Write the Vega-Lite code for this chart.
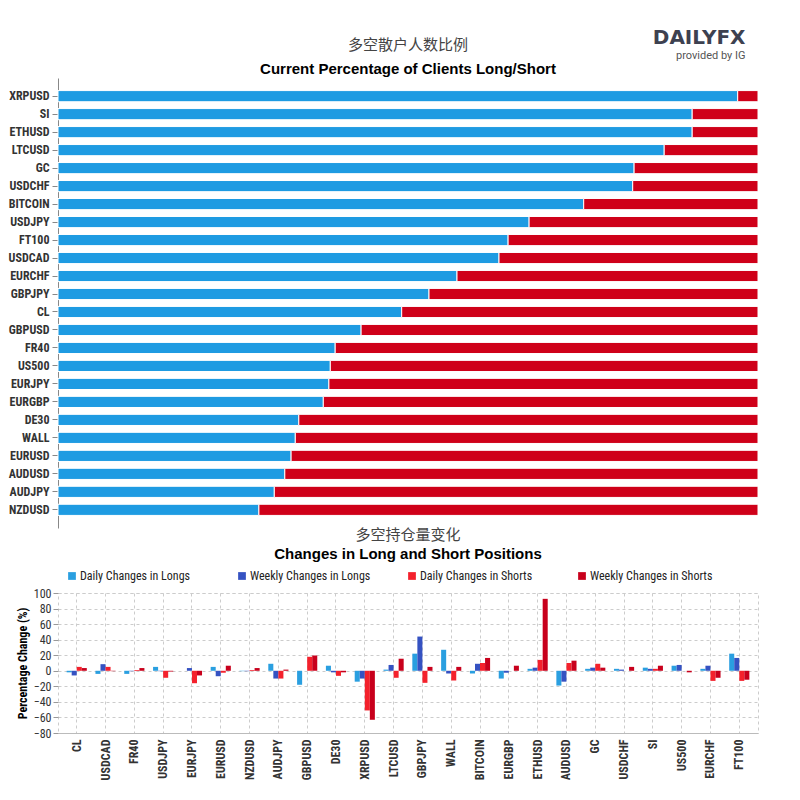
{
  "$schema": "https://vega.github.io/schema/vega-lite/v6.json",
  "background": "#ffffff",
  "padding": {"left": 7, "top": 28, "right": 0, "bottom": 0},
  "bounds": "flush",
  "spacing": 65,
  "resolve": {"scale": {"color": "independent"}, "legend": {"color": "independent"}},
  "title": {
    "text": "DAILYFX",
    "subtitle": "provided by IG",
    "anchor": "end",
    "dx": -13,
    "offset": -23,
    "font": "DejaVu Sans",
    "fontSize": 20,
    "fontWeight": "bold",
    "color": "#3d4150",
    "subtitleFont": "Roboto",
    "subtitleFontSize": 11,
    "subtitleColor": "#555555",
    "subtitlePadding": 2
  },
  "config": {
    "font": "Roboto Condensed, Liberation Sans Narrow, DejaVu Sans Condensed, sans-serif",
    "axis": {"labelColor": "#333333", "titleColor": "#333333"}
  },
  "vconcat": [
    {
      "title": {
        "text": "多空散户人数比例",
        "subtitle": "Current Percentage of Clients Long/Short",
        "anchor": "middle",
        "font": "Noto Sans CJK SC",
        "fontSize": 15,
        "fontWeight": "normal",
        "color": "#444444",
        "subtitleFont": "Liberation Sans",
        "subtitleFontSize": 15,
        "subtitleFontWeight": "bold",
        "subtitleColor": "#000000",
        "subtitlePadding": 9,
        "offset": 1
      },
      "width": 700,
      "height": 450,
      "view": {"stroke": null},
      "data": {
        "values": [
          {"symbol": "XRPUSD", "side": "Long", "pct": 97.1}, {"symbol": "XRPUSD", "side": "Short", "pct": 2.9},
          {"symbol": "SI", "side": "Long", "pct": 90.6}, {"symbol": "SI", "side": "Short", "pct": 9.4},
          {"symbol": "ETHUSD", "side": "Long", "pct": 90.6}, {"symbol": "ETHUSD", "side": "Short", "pct": 9.4},
          {"symbol": "LTCUSD", "side": "Long", "pct": 86.6}, {"symbol": "LTCUSD", "side": "Short", "pct": 13.4},
          {"symbol": "GC", "side": "Long", "pct": 82.3}, {"symbol": "GC", "side": "Short", "pct": 17.7},
          {"symbol": "USDCHF", "side": "Long", "pct": 82.1}, {"symbol": "USDCHF", "side": "Short", "pct": 17.9},
          {"symbol": "BITCOIN", "side": "Long", "pct": 75.1}, {"symbol": "BITCOIN", "side": "Short", "pct": 24.9},
          {"symbol": "USDJPY", "side": "Long", "pct": 67.3}, {"symbol": "USDJPY", "side": "Short", "pct": 32.7},
          {"symbol": "FT100", "side": "Long", "pct": 64.3}, {"symbol": "FT100", "side": "Short", "pct": 35.7},
          {"symbol": "USDCAD", "side": "Long", "pct": 63.0}, {"symbol": "USDCAD", "side": "Short", "pct": 37.0},
          {"symbol": "EURCHF", "side": "Long", "pct": 57.0}, {"symbol": "EURCHF", "side": "Short", "pct": 43.0},
          {"symbol": "GBPJPY", "side": "Long", "pct": 53.0}, {"symbol": "GBPJPY", "side": "Short", "pct": 47.0},
          {"symbol": "CL", "side": "Long", "pct": 49.1}, {"symbol": "CL", "side": "Short", "pct": 50.9},
          {"symbol": "GBPUSD", "side": "Long", "pct": 43.3}, {"symbol": "GBPUSD", "side": "Short", "pct": 56.7},
          {"symbol": "FR40", "side": "Long", "pct": 39.6}, {"symbol": "FR40", "side": "Short", "pct": 60.4},
          {"symbol": "US500", "side": "Long", "pct": 38.9}, {"symbol": "US500", "side": "Short", "pct": 61.1},
          {"symbol": "EURJPY", "side": "Long", "pct": 38.7}, {"symbol": "EURJPY", "side": "Short", "pct": 61.3},
          {"symbol": "EURGBP", "side": "Long", "pct": 37.9}, {"symbol": "EURGBP", "side": "Short", "pct": 62.1},
          {"symbol": "DE30", "side": "Long", "pct": 34.4}, {"symbol": "DE30", "side": "Short", "pct": 65.6},
          {"symbol": "WALL", "side": "Long", "pct": 33.9}, {"symbol": "WALL", "side": "Short", "pct": 66.1},
          {"symbol": "EURUSD", "side": "Long", "pct": 33.3}, {"symbol": "EURUSD", "side": "Short", "pct": 66.7},
          {"symbol": "AUDUSD", "side": "Long", "pct": 32.4}, {"symbol": "AUDUSD", "side": "Short", "pct": 67.6},
          {"symbol": "AUDJPY", "side": "Long", "pct": 30.9}, {"symbol": "AUDJPY", "side": "Short", "pct": 69.1},
          {"symbol": "NZDUSD", "side": "Long", "pct": 28.7}, {"symbol": "NZDUSD", "side": "Short", "pct": 71.3}
        ]
      },
      "mark": {"type": "bar", "stroke": "#ffffff", "strokeWidth": 1},
      "encoding": {
        "y": {
          "field": "symbol",
          "type": "nominal",
          "sort": null,
          "scale": {"paddingInner": 0.38, "paddingOuter": 0.7},
          "axis": {
            "title": null,
            "labelFontSize": 12,
            "labelFontWeight": "bold",
            "labelPadding": 3,
            "tickSize": 6,
            "tickColor": "#888888",
            "domainColor": "#888888",
            "minExtent": 51,
            "maxExtent": 51
          }
        },
        "x": {
          "field": "pct",
          "type": "quantitative",
          "stack": "zero",
          "scale": {"domain": [0, 100], "nice": false},
          "axis": null
        },
        "color": {
          "field": "side",
          "type": "nominal",
          "scale": {"domain": ["Long", "Short"], "range": ["#1e9be2", "#cf0019"]},
          "legend": null
        },
        "order": {"field": "side", "sort": "ascending"}
      }
    },
    {
      "title": {
        "text": "多空持仓量变化",
        "subtitle": "Changes in Long and Short Positions",
        "anchor": "middle",
        "font": "Noto Sans CJK SC",
        "fontSize": 15,
        "fontWeight": "normal",
        "color": "#444444",
        "subtitleFont": "Liberation Sans",
        "subtitleFontSize": 15,
        "subtitleFontWeight": "bold",
        "subtitleColor": "#000000",
        "subtitlePadding": 4,
        "offset": 0
      },
      "width": 700,
      "height": 140,
      "view": {"stroke": "#cccccc", "strokeDash": [3, 3]},
      "data": {
        "values": [
          {"symbol": "CL", "series": "Daily Changes in Longs", "change": -2}, {"symbol": "CL", "series": "Weekly Changes in Longs", "change": -6}, {"symbol": "CL", "series": "Daily Changes in Shorts", "change": 5}, {"symbol": "CL", "series": "Weekly Changes in Shorts", "change": 3.5},
          {"symbol": "USDCAD", "series": "Daily Changes in Longs", "change": -4}, {"symbol": "USDCAD", "series": "Weekly Changes in Longs", "change": 8.5}, {"symbol": "USDCAD", "series": "Daily Changes in Shorts", "change": 5}, {"symbol": "USDCAD", "series": "Weekly Changes in Shorts", "change": -0.5},
          {"symbol": "FR40", "series": "Daily Changes in Longs", "change": -4}, {"symbol": "FR40", "series": "Weekly Changes in Longs", "change": -0.5}, {"symbol": "FR40", "series": "Daily Changes in Shorts", "change": 1}, {"symbol": "FR40", "series": "Weekly Changes in Shorts", "change": 3.5},
          {"symbol": "USDJPY", "series": "Daily Changes in Longs", "change": 5}, {"symbol": "USDJPY", "series": "Weekly Changes in Longs", "change": -0.5}, {"symbol": "USDJPY", "series": "Daily Changes in Shorts", "change": -9}, {"symbol": "USDJPY", "series": "Weekly Changes in Shorts", "change": -1},
          {"symbol": "EURJPY", "series": "Daily Changes in Longs", "change": 0}, {"symbol": "EURJPY", "series": "Weekly Changes in Longs", "change": 3.5}, {"symbol": "EURJPY", "series": "Daily Changes in Shorts", "change": -16}, {"symbol": "EURJPY", "series": "Weekly Changes in Shorts", "change": -6},
          {"symbol": "EURUSD", "series": "Daily Changes in Longs", "change": 5}, {"symbol": "EURUSD", "series": "Weekly Changes in Longs", "change": -7}, {"symbol": "EURUSD", "series": "Daily Changes in Shorts", "change": -2.5}, {"symbol": "EURUSD", "series": "Weekly Changes in Shorts", "change": 6.5},
          {"symbol": "NZDUSD", "series": "Daily Changes in Longs", "change": -0.5}, {"symbol": "NZDUSD", "series": "Weekly Changes in Longs", "change": -0.5}, {"symbol": "NZDUSD", "series": "Daily Changes in Shorts", "change": 1}, {"symbol": "NZDUSD", "series": "Weekly Changes in Shorts", "change": 3.5},
          {"symbol": "AUDJPY", "series": "Daily Changes in Longs", "change": 9}, {"symbol": "AUDJPY", "series": "Weekly Changes in Longs", "change": -10}, {"symbol": "AUDJPY", "series": "Daily Changes in Shorts", "change": -10}, {"symbol": "AUDJPY", "series": "Weekly Changes in Shorts", "change": 1.5},
          {"symbol": "GBPUSD", "series": "Daily Changes in Longs", "change": -18}, {"symbol": "GBPUSD", "series": "Weekly Changes in Longs", "change": 0}, {"symbol": "GBPUSD", "series": "Daily Changes in Shorts", "change": 18}, {"symbol": "GBPUSD", "series": "Weekly Changes in Shorts", "change": 19.5},
          {"symbol": "DE30", "series": "Daily Changes in Longs", "change": 6.5}, {"symbol": "DE30", "series": "Weekly Changes in Longs", "change": -2}, {"symbol": "DE30", "series": "Daily Changes in Shorts", "change": -6.5}, {"symbol": "DE30", "series": "Weekly Changes in Shorts", "change": -2},
          {"symbol": "XRPUSD", "series": "Daily Changes in Longs", "change": -14}, {"symbol": "XRPUSD", "series": "Weekly Changes in Longs", "change": -10}, {"symbol": "XRPUSD", "series": "Daily Changes in Shorts", "change": -51}, {"symbol": "XRPUSD", "series": "Weekly Changes in Shorts", "change": -63},
          {"symbol": "LTCUSD", "series": "Daily Changes in Longs", "change": 1.5}, {"symbol": "LTCUSD", "series": "Weekly Changes in Longs", "change": 7.5}, {"symbol": "LTCUSD", "series": "Daily Changes in Shorts", "change": -9}, {"symbol": "LTCUSD", "series": "Weekly Changes in Shorts", "change": 15.5},
          {"symbol": "GBPJPY", "series": "Daily Changes in Longs", "change": 22}, {"symbol": "GBPJPY", "series": "Weekly Changes in Longs", "change": 44}, {"symbol": "GBPJPY", "series": "Daily Changes in Shorts", "change": -15.5}, {"symbol": "GBPJPY", "series": "Weekly Changes in Shorts", "change": 5},
          {"symbol": "WALL", "series": "Daily Changes in Longs", "change": 27}, {"symbol": "WALL", "series": "Weekly Changes in Longs", "change": -3.5}, {"symbol": "WALL", "series": "Daily Changes in Shorts", "change": -12.5}, {"symbol": "WALL", "series": "Weekly Changes in Shorts", "change": 5},
          {"symbol": "BITCOIN", "series": "Daily Changes in Longs", "change": -3.5}, {"symbol": "BITCOIN", "series": "Weekly Changes in Longs", "change": 9}, {"symbol": "BITCOIN", "series": "Daily Changes in Shorts", "change": 10}, {"symbol": "BITCOIN", "series": "Weekly Changes in Shorts", "change": 16.5},
          {"symbol": "EURGBP", "series": "Daily Changes in Longs", "change": -10}, {"symbol": "EURGBP", "series": "Weekly Changes in Longs", "change": -2.5}, {"symbol": "EURGBP", "series": "Daily Changes in Shorts", "change": 0}, {"symbol": "EURGBP", "series": "Weekly Changes in Shorts", "change": 6.5},
          {"symbol": "ETHUSD", "series": "Daily Changes in Longs", "change": 2.5}, {"symbol": "ETHUSD", "series": "Weekly Changes in Longs", "change": 4}, {"symbol": "ETHUSD", "series": "Daily Changes in Shorts", "change": 14}, {"symbol": "ETHUSD", "series": "Weekly Changes in Shorts", "change": 92.5},
          {"symbol": "AUDUSD", "series": "Daily Changes in Longs", "change": -19}, {"symbol": "AUDUSD", "series": "Weekly Changes in Longs", "change": -14}, {"symbol": "AUDUSD", "series": "Daily Changes in Shorts", "change": 10}, {"symbol": "AUDUSD", "series": "Weekly Changes in Shorts", "change": 13},
          {"symbol": "GC", "series": "Daily Changes in Longs", "change": 2.5}, {"symbol": "GC", "series": "Weekly Changes in Longs", "change": 4}, {"symbol": "GC", "series": "Daily Changes in Shorts", "change": 9}, {"symbol": "GC", "series": "Weekly Changes in Shorts", "change": 4},
          {"symbol": "USDCHF", "series": "Daily Changes in Longs", "change": 2.5}, {"symbol": "USDCHF", "series": "Weekly Changes in Longs", "change": 1.5}, {"symbol": "USDCHF", "series": "Daily Changes in Shorts", "change": 0}, {"symbol": "USDCHF", "series": "Weekly Changes in Shorts", "change": 5},
          {"symbol": "SI", "series": "Daily Changes in Longs", "change": 4}, {"symbol": "SI", "series": "Weekly Changes in Longs", "change": 2.5}, {"symbol": "SI", "series": "Daily Changes in Shorts", "change": 2.5}, {"symbol": "SI", "series": "Weekly Changes in Shorts", "change": 6.5},
          {"symbol": "US500", "series": "Daily Changes in Longs", "change": 6.5}, {"symbol": "US500", "series": "Weekly Changes in Longs", "change": 7.5}, {"symbol": "US500", "series": "Daily Changes in Shorts", "change": 0}, {"symbol": "US500", "series": "Weekly Changes in Shorts", "change": -2},
          {"symbol": "EURCHF", "series": "Daily Changes in Longs", "change": 2.5}, {"symbol": "EURCHF", "series": "Weekly Changes in Longs", "change": 6.5}, {"symbol": "EURCHF", "series": "Daily Changes in Shorts", "change": -13}, {"symbol": "EURCHF", "series": "Weekly Changes in Shorts", "change": -9},
          {"symbol": "FT100", "series": "Daily Changes in Longs", "change": 22}, {"symbol": "FT100", "series": "Weekly Changes in Longs", "change": 16.5}, {"symbol": "FT100", "series": "Daily Changes in Shorts", "change": -13}, {"symbol": "FT100", "series": "Weekly Changes in Shorts", "change": -11.5}
        ]
      },
      "mark": {"type": "bar"},
      "encoding": {
        "x": {
          "field": "symbol",
          "type": "nominal",
          "sort": null,
          "scale": {"paddingInner": 0.3, "paddingOuter": 0.3},
          "axis": {
            "title": null,
            "labelAngle": -90,
            "labelAlign": "right",
            "labelBaseline": "middle",
            "labelFontSize": 12,
            "labelFontWeight": "bold",
            "labelPadding": 6,
            "ticks": false,
            "domainColor": "#bbbbbb",
            "grid": true,
            "gridColor": "#cccccc",
            "gridDash": [3, 3],
            "bandPosition": 0.5
          }
        },
        "xOffset": {
          "field": "series",
          "type": "nominal",
          "sort": ["Daily Changes in Longs", "Weekly Changes in Longs", "Daily Changes in Shorts", "Weekly Changes in Shorts"],
          "scale": {"paddingInner": 0, "paddingOuter": 0}
        },
        "y": {
          "field": "change",
          "type": "quantitative",
          "scale": {"domain": [-80, 100], "nice": false},
          "axis": {
            "title": "Percentage Change (%)",
            "titleFontSize": 12,
            "titleFontWeight": "bold",
            "titleColor": "#000000",
            "values": [-80, -60, -40, -20, 0, 20, 40, 60, 80, 100],
            "labelFontSize": 12,
            "tickSize": 5,
            "tickColor": "#999999",
            "domain": false,
            "gridColor": "#cccccc",
            "gridDash": [3, 3]
          }
        },
        "color": {
          "field": "series",
          "type": "nominal",
          "scale": {
            "domain": ["Daily Changes in Longs", "Weekly Changes in Longs", "Daily Changes in Shorts", "Weekly Changes in Shorts"],
            "range": ["#2a9fe0", "#3552c2", "#f4212c", "#c8001c"]
          },
          "legend": {
            "title": null,
            "orient": "top",
            "direction": "horizontal",
            "symbolType": "square",
            "symbolSize": 60,
            "symbolStrokeWidth": 0,
            "labelFontSize": 12,
            "labelColor": "#222222",
            "labelOffset": 2,
            "gridAlign": "all",
            "columnPadding": 33,
            "padding": 8,
            "offset": 3
          }
        }
      }
    }
  ]
}
